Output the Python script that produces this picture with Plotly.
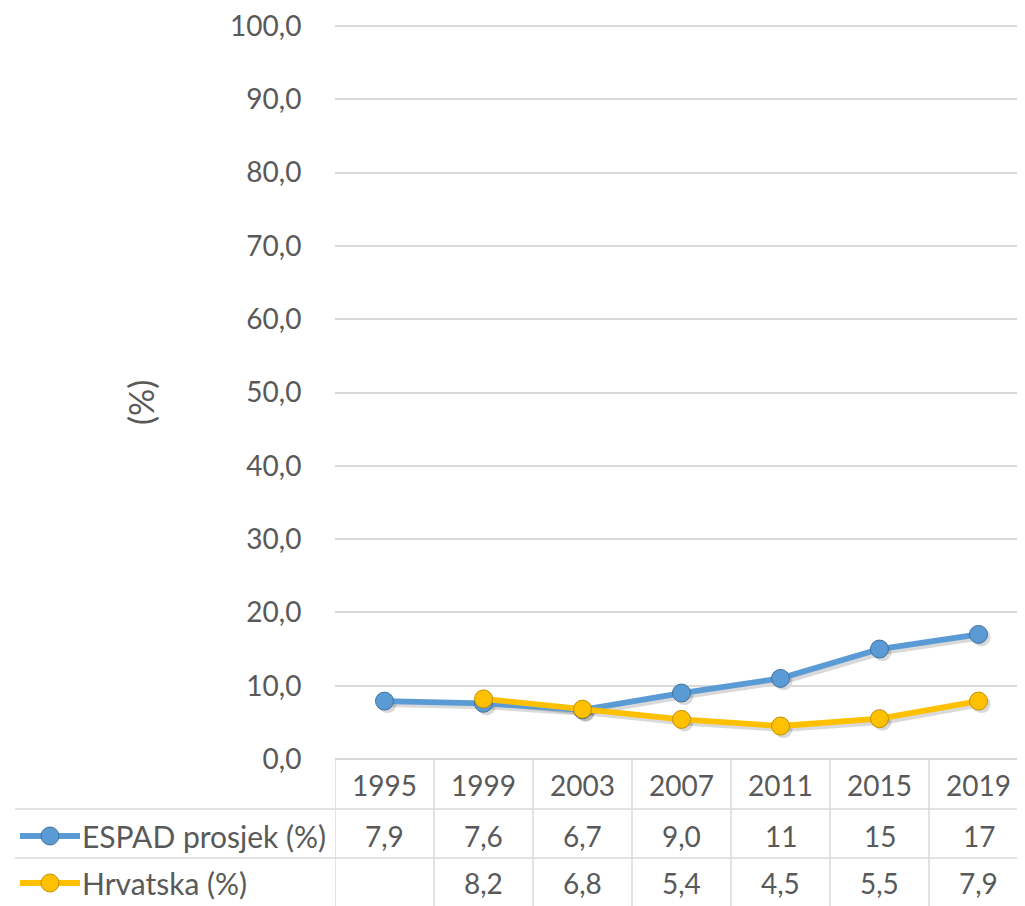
import plotly.graph_objects as go

# ---- data ----
years = ["1995", "1999", "2003", "2007", "2011", "2015", "2019"]
espad = [7.9, 7.6, 6.7, 9.0, 11, 15, 17]
hrvatska = [None, 8.2, 6.8, 5.4, 4.5, 5.5, 7.9]
espad_labels = ["7,9", "7,6", "6,7", "9,0", "11", "15", "17"]
hrvatska_labels = ["", "8,2", "6,8", "5,4", "4,5", "5,5", "7,9"]
series_names = ["ESPAD prosjek (%)", "Hrvatska (%)"]
y_title = "(%)"
y_max = 100

OFF = 8  # page body margin in the browser
W, H = 1025 - OFF, 906 - OFF
BLUE, YELLOW = "#5B9BD5", "#FFC000"
BLUE_D, YELLOW_D = "#41719C", "#BF9000"
TXT = "#595959"
GRID = "#D9D9D9"
FONT = "Lato"
FS = 28


def px(x):
    return (x - OFF) / W


def py(y):
    return (H - (y - OFF)) / H


xs = list(range(len(years)))
left, right = 335, 1025
top, bottom = 26, 759
colw = 99.0
xr = [-0.5, -0.5 + (right - left) / colw]
eps = 1.5
top_ext = top - eps * (bottom - top) / y_max
yr_ = [0, y_max + eps]

fig = go.Figure()

# shadow traces (subplot xy, shifted a few pixels)
sh = 3
for vals in (espad, hrvatska):
    fig.add_trace(go.Scatter(
        x=xs, y=vals, mode="lines+markers", xaxis="x", yaxis="y",
        line=dict(color="rgba(0,0,0,0.15)", width=6),
        marker=dict(size=18, color="rgba(0,0,0,0.15)"),
        showlegend=False, hoverinfo="skip"))

# main traces (subplot x2y2)
for vals, col, dcol, name in ((espad, BLUE, BLUE_D, series_names[0]),
                              (hrvatska, YELLOW, YELLOW_D, series_names[1])):
    fig.add_trace(go.Scatter(
        x=xs, y=vals, mode="lines+markers", xaxis="x2", yaxis="y2", name=name,
        line=dict(color=col, width=5.8),
        marker=dict(size=18, color=col, line=dict(color=dcol, width=1)),
        showlegend=False))

fig.update_layout(
    template="none",
    autosize=False,
    width=W, height=H,
    margin=dict(l=0, r=0, t=0, b=0, pad=0),
    paper_bgcolor="white", plot_bgcolor="rgba(0,0,0,0)",
    separators=",.",
    font=dict(family=FONT, size=FS, color=TXT),
    showlegend=False,
    xaxis=dict(domain=[px(left + sh), 1], range=[xr[0], xr[1] - sh / colw],
               visible=False, automargin=False),
    yaxis=dict(domain=[py(bottom + sh), py(top_ext + sh)], range=yr_,
               visible=False, anchor="x", automargin=False),
    xaxis2=dict(domain=[px(left), 1], range=xr, anchor="y2",
                showticklabels=False, showgrid=False, zeroline=False,
                showline=False, ticks="", automargin=False),
    yaxis2=dict(domain=[py(bottom), py(top_ext)], range=yr_, anchor="x2",
                tickmode="linear", tick0=0, dtick=10, tickformat=".1f",
                showgrid=True, gridcolor=GRID,
                gridwidth=1.5, zeroline=True, zerolinecolor=GRID,
                zerolinewidth=1.5, showline=False, ticks="outside",
                ticklen=27, tickcolor="rgba(0,0,0,0)", automargin=False,
                ticklabeloverflow="allow",
                tickfont=dict(family=FONT, size=FS, color=TXT)),
)

annotations = []
# y-axis title
annotations.append(dict(text=y_title, x=px(141), y=py(403), xref="paper",
                        yref="paper", showarrow=False, textangle=-90,
                        xanchor="center", yanchor="middle",
                        font=dict(family=FONT, size=34, color=TXT)))
# table text
for i, yr in enumerate(years):
    annotations.append(dict(text=yr, x=i, y=py(785), xref="x2", yref="paper",
                            xanchor="center", yanchor="middle",
                            showarrow=False))
    annotations.append(dict(text=espad_labels[i], x=i, y=py(836), xref="x2",
                            yref="paper", xanchor="center", yanchor="middle",
                            showarrow=False))
    if hrvatska_labels[i]:
        annotations.append(dict(text=hrvatska_labels[i], x=i, y=py(883),
                                xref="x2", yref="paper", xanchor="center",
                                yanchor="middle", showarrow=False))
# row headers
for name, yy in zip(series_names, (836, 883)):
    annotations.append(dict(text=name, x=px(80), y=py(yy), xref="paper",
                            yref="paper", xanchor="left", yanchor="middle",
                            showarrow=False,
                            font=dict(family=FONT, size=30, color=TXT)))
fig.update_layout(annotations=annotations)

shapes = []
# horizontal table lines
for yy in (809, 858):
    shapes.append(dict(type="line", xref="paper", yref="paper", x0=px(15),
                       x1=1, y0=py(yy), y1=py(yy),
                       line=dict(color=GRID, width=1.5)))
# vertical table lines
for i in range(len(years)):
    shapes.append(dict(type="line", xref="x2", yref="paper", x0=i - 0.5,
                       x1=i - 0.5, y0=py(bottom), y1=0,
                       line=dict(color=GRID, width=1.5)))
# legend keys
for col, dcol, yy in ((BLUE, BLUE_D, 836), (YELLOW, YELLOW_D, 883)):
    shapes.append(dict(type="line", xref="paper", yref="paper", x0=px(20),
                       x1=px(80), y0=py(yy), y1=py(yy),
                       line=dict(color=col, width=5.8)))
    shapes.append(dict(type="circle", xref="paper", yref="paper",
                       x0=px(50 - 9), x1=px(50 + 9), y0=py(yy + 9),
                       y1=py(yy - 9), fillcolor=col,
                       line=dict(color=dcol, width=1)))
fig.update_layout(shapes=shapes)

fig.write_html("out.html")
